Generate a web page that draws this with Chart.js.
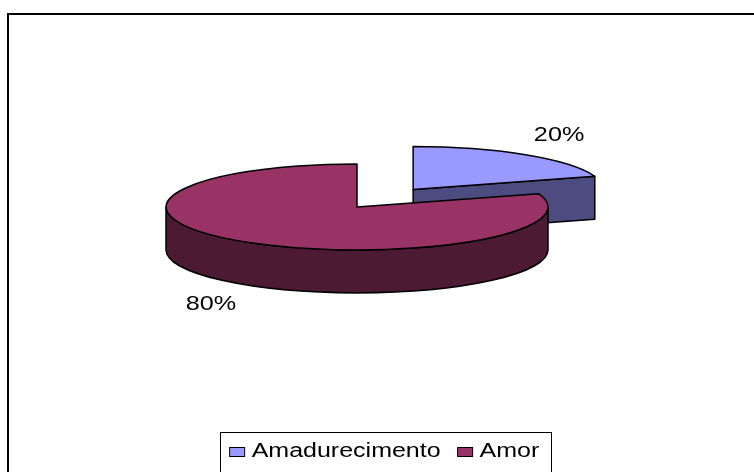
<!DOCTYPE html>
<html>
<head>
<meta charset="utf-8">
<script src="https://cdn.jsdelivr.net/npm/chart.js@4.4.1/dist/chart.umd.min.js"></script>
<style>
  html, body { margin: 0; padding: 0; background: #fff; overflow: hidden; }
  canvas { display: block; }
</style>
</head>
<body>
<canvas id="pie3d" width="754" height="472"></canvas>
<script>
// --- Data ---
const labels = ['Amadurecimento', 'Amor'];
const values = [20, 80];

// --- Look ---
const topColors = ['#9999FF', '#993366'];
const sideColors = ['#4C4C80', '#4C1A33'];
const explode = [0.5, 0];          // fraction of radius
const TILT = 0.225;                // ry / rx
const DEPTH = 0.225;               // pie thickness / rx
const LABEL_KX = 1.3, LABEL_KY = 1.56;
const FONT = "'Liberation Sans', Arial, sans-serif";
const FRAME = { left: 8, top: 14, width: 820, height: 520, centerX: 384.5 };

function stretchedText(ctx, text, x, y, sx) {
    ctx.save();
    ctx.translate(x, y);
    ctx.scale(sx, 1);
    ctx.fillText(text, 0, 0);
    ctx.restore();
}

// draws the pie as an extruded ellipse, using the angles chart.js computed
const pie3d = {
    id: 'pie3d',
    beforeDatasetsDraw(chart) {
        const ctx = chart.ctx;
        const area = chart.chartArea;
        const rx = (area.right - area.left) / 2;
        const ry = rx * TILT;
        const d = rx * DEPTH;
        const cx = (area.left + area.right) / 2;
        const cy = area.top + ry;
        const arcs = chart.getDatasetMeta(0).data;

        const slices = arcs.map((a, i) => {
            const mid = (a.startAngle + a.endAngle) / 2;
            return {
                i, s: a.startAngle, e: a.endAngle, mid,
                x: cx + explode[i] * rx * Math.cos(mid),
                y: cy + explode[i] * ry * Math.sin(mid)
            };
        }).sort((p, q) => p.y - q.y);

        ctx.save();
        ctx.lineWidth = 1.5;
        ctx.strokeStyle = '#000';
        ctx.lineJoin = 'round';

        slices.forEach(sl => {
            ctx.fillStyle = sideColors[sl.i];
            // cut faces that look towards the viewer
            [[sl.s, -1], [sl.e, 1]].forEach(([t, dir]) => {
                if (Math.sin(t + dir * Math.PI / 2) <= 1e-6) return;
                const px = sl.x + rx * Math.cos(t), py = sl.y + ry * Math.sin(t);
                ctx.beginPath();
                ctx.moveTo(sl.x, sl.y);
                ctx.lineTo(px, py);
                ctx.lineTo(px, py + d);
                ctx.lineTo(sl.x, sl.y + d);
                ctx.closePath();
                ctx.fill(); ctx.stroke();
            });
            // outer wall, front half only
            [0, 2 * Math.PI].forEach(base => {
                const a = Math.max(sl.s, base), b = Math.min(sl.e, base + Math.PI);
                if (b <= a) return;
                ctx.beginPath();
                ctx.ellipse(sl.x, sl.y, rx, ry, 0, a, b);
                ctx.lineTo(sl.x + rx * Math.cos(b), sl.y + ry * Math.sin(b) + d);
                ctx.ellipse(sl.x, sl.y + d, rx, ry, 0, b, a, true);
                ctx.closePath();
                ctx.fill(); ctx.stroke();
            });
            // top face
            ctx.fillStyle = topColors[sl.i];
            ctx.beginPath();
            ctx.moveTo(sl.x, sl.y);
            ctx.ellipse(sl.x, sl.y, rx, ry, 0, sl.s, sl.e);
            ctx.closePath();
            ctx.fill(); ctx.stroke();
        });

        // percentage labels
        const total = values.reduce((s, v) => s + v, 0);
        ctx.fillStyle = '#000';
        ctx.font = '21px ' + FONT;
        ctx.textAlign = 'center';
        ctx.textBaseline = 'middle';
        slices.forEach(sl => {
            const sin = Math.sin(sl.mid);
            const lx = sl.x + rx * LABEL_KX * Math.cos(sl.mid);
            const ly = sl.y + ry * LABEL_KY * sin + (sin > 0 ? d : 0);
            stretchedText(ctx, Math.round(values[sl.i] / total * 100) + '%', lx, ly, 1.2);
        });
        ctx.restore();
        return false;
    }
};

// outer frame and boxed legend
const legendBox = {
    id: 'legendBox',
    afterDraw(chart) {
        const ctx = chart.ctx;
        const SW = 15, GAP = 7, ITEM_GAP = 17, STRETCH = 1.25;
        ctx.save();
        ctx.strokeStyle = '#000';
        ctx.lineWidth = 2;
        ctx.strokeRect(FRAME.left, FRAME.top, FRAME.width, FRAME.height);

        ctx.font = '20px ' + FONT;
        const widths = labels.map(l => ctx.measureText(l).width * STRETCH);
        const total = widths.reduce((s, w) => s + SW + GAP + w, 0) + ITEM_GAP * (labels.length - 1);
        let x = FRAME.centerX - total / 2;

        ctx.lineWidth = 1;
        ctx.strokeRect(Math.round(x - 10) + 0.5, 432.5, Math.round(total + 21), 44);

        ctx.textAlign = 'left';
        ctx.textBaseline = 'alphabetic';
        labels.forEach((l, i) => {
            ctx.fillStyle = topColors[i];
            ctx.fillRect(x, 447.5, SW, 9);
            ctx.strokeRect(x, 447.5, SW, 9);
            x += SW + GAP;
            ctx.fillStyle = '#000';
            stretchedText(ctx, l, x, 456.5, STRETCH);
            x += widths[i] + ITEM_GAP;
        });
        ctx.restore();
    }
};

new Chart(document.getElementById('pie3d'), {
    type: 'pie',
    data: {
        labels: labels,
        datasets: [{ data: values, backgroundColor: topColors, borderWidth: 0 }]
    },
    options: {
        responsive: false,
        animation: false,
        devicePixelRatio: 1,
        events: [],
        layout: { padding: { left: 166, right: 206, top: 164, bottom: 179 } },
        plugins: { legend: { display: false }, tooltip: { enabled: false } }
    },
    plugins: [pie3d, legendBox]
});
</script>
</body>
</html>
